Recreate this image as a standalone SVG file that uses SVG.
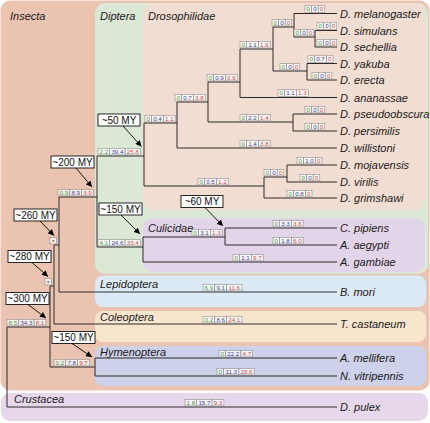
<svg xmlns="http://www.w3.org/2000/svg" width="430" height="423" viewBox="0 0 430 423">
<defs>
<marker id="ah" viewBox="0 0 10 10" refX="10" refY="5" markerWidth="6.5" markerHeight="6" orient="auto" markerUnits="userSpaceOnUse"><path d="M0,0 L10,5 L0,10 z" fill="#000"/></marker>
<style>
text{font-family:"Liberation Sans",Arial,sans-serif}
.cl{font-style:italic;font-size:11px;fill:#1a1a1a}
.sp{font-style:italic;font-size:11px;fill:#1a1a1a}
.my rect{fill:#fff;stroke:#111;stroke-width:0.9}
.my text{font-size:10px;text-anchor:middle;fill:#111}
.my line{stroke:#000;stroke-width:0.9;marker-end:url(#ah)}
.lb rect{fill:#fff;fill-opacity:0.75;stroke:#8a8a8a;stroke-width:0.6}
.lb text{font-size:6.2px;text-anchor:middle}
.g{fill:#3d9a3d}.u{fill:#3f3fa0}.r{fill:#c84848}.s{fill:#222;font-size:7.5px}
#connectors path{fill:none;stroke:#2e2a2a;stroke-width:1}
</style>
</defs>
<g id="clades">
<rect x="0.5" y="0.5" width="429" height="390" rx="10" fill="#EBC4B1"/>
<rect x="95" y="3" width="333" height="271" rx="10" fill="#DCE8D6"/>
<rect x="143" y="3" width="282" height="207" rx="10" fill="#F2DDD2"/>
<rect x="143" y="218" width="282" height="54" rx="10" fill="#E3D5E9"/>
<rect x="95" y="275.5" width="331" height="31.5" rx="8" fill="#DCE9F6"/>
<rect x="95" y="311" width="331" height="31" rx="8" fill="#F8E5CE"/>
<rect x="95" y="346" width="331" height="40" rx="8" fill="#CDD1EA"/>
<rect x="1" y="393" width="427" height="28" rx="9" fill="#E6D8EA"/>
<text class="cl" x="10" y="20">Insecta</text>
<text class="cl" x="100" y="20">Diptera</text>
<text class="cl" x="148" y="20">Drosophilidae</text>
<text class="cl" x="148" y="232">Culicidae</text>
<text class="cl" x="100" y="288">Lepidoptera</text>
<text class="cl" x="100" y="321">Coleoptera</text>
<text class="cl" x="100" y="356">Hymenoptera</text>
<text class="cl" x="14" y="403">Crustacea</text>
</g>
<g id="connectors">
<path d="M294,13.5H337M294,13.5V37H315M315,30.5V47M315,30.5H337M315,47H337M273,27H294M273,27V71H307M307,63.5V80M307,63.5H337M307,80H337M240,49H273M240,49V97.5H337M208,82H240M208,82V122H293M293,114V131M293,114H337M293,131H337M177,102H208M177,102V148H337M144,123H177M144,123V186H264M264,177V198H337M264,177H287M287,165V182M287,165H337M287,182H337M97,156H144M97,156V247H143M143,237V262H337M143,237H225M225,228V245M225,228H337M225,245H337M59,197H97M59,197V292H337M54,245H59M54,245V324H337M50,286H54M50,286V367H95M95,358V376M95,358H337M95,376H337M7,327H50M7,327V407H337"/>
</g>
<g id="species">
<text class="sp" id="d-mel" x="340" y="17.5">D. melanogaster</text>
<text class="sp" id="d-sim" x="340" y="34.5">D. simulans</text>
<text class="sp" id="d-sec" x="340" y="51">D. sechellia</text>
<text class="sp" id="d-yak" x="340" y="67.5">D. yakuba</text>
<text class="sp" id="d-ere" x="340" y="84">D. erecta</text>
<text class="sp" id="d-ana" x="340" y="101.5">D. ananassae</text>
<text class="sp" id="d-pse" x="340" y="118">D. pseudoobscura</text>
<text class="sp" id="d-per" x="340" y="135">D. persimilis</text>
<text class="sp" id="d-wil" x="340" y="152">D. willistoni</text>
<text class="sp" id="d-moj" x="340" y="169">D. mojavensis</text>
<text class="sp" id="d-vir" x="340" y="186">D. virilis</text>
<text class="sp" id="d-gri" x="340" y="202">D. grimshawi</text>
<text class="sp" id="c-pip" x="340" y="232">C. pipiens</text>
<text class="sp" id="a-aeg" x="340" y="249">A. aegypti</text>
<text class="sp" id="a-gam" x="340" y="266">A. gambiae</text>
<text class="sp" id="b-mor" x="340" y="296">B. mori</text>
<text class="sp" id="t-cas" x="340" y="328">T. castaneum</text>
<text class="sp" id="a-mel" x="340" y="362">A. mellifera</text>
<text class="sp" id="n-vit" x="340" y="380">N. vitripennis</text>
<text class="sp" id="d-pul" x="340" y="411">D. pulex</text>
</g>
<g id="branch-labels">
<g class="lb" id="L1"><rect x="305" y="5.8" width="6.6" height="6.6"/><rect x="311.6" y="5.8" width="6.6" height="6.6"/><rect x="318.2" y="5.8" width="6.6" height="6.6"/><text y="11.3"><tspan x="308.3" class="g">0</tspan><tspan x="314.9" class="u">0</tspan><tspan x="321.5" class="r">0</tspan></text></g>
<g class="lb" id="L2"><rect x="317" y="22.8" width="6.6" height="6.6"/><rect x="323.6" y="22.8" width="6.6" height="6.6"/><rect x="330.2" y="22.8" width="6.6" height="6.6"/><text y="28.3"><tspan x="320.3" class="g">0</tspan><tspan x="326.9" class="u">0</tspan><tspan x="333.5" class="r">0</tspan></text></g>
<g class="lb" id="L3"><rect x="317" y="39.3" width="6.6" height="6.6"/><rect x="323.6" y="39.3" width="6.6" height="6.6"/><rect x="330.2" y="39.3" width="6.6" height="6.6"/><text y="44.8"><tspan x="320.3" class="g">0</tspan><tspan x="326.9" class="u">0</tspan><tspan x="333.5" class="r">0</tspan></text></g>
<g class="lb" id="L4"><rect x="294" y="29.3" width="6.6" height="6.6"/><rect x="300.6" y="29.3" width="6.6" height="6.6"/><rect x="307.2" y="29.3" width="6.6" height="6.6"/><text y="34.8"><tspan x="297.3" class="g">0</tspan><tspan x="303.9" class="u">0</tspan><tspan x="310.5" class="r">0</tspan></text></g>
<g class="lb" id="L5"><rect x="272" y="19.3" width="6.6" height="6.6"/><rect x="278.6" y="19.3" width="6.6" height="6.6"/><rect x="285.2" y="19.3" width="6.6" height="6.6"/><text y="24.8"><tspan x="275.3" class="g">0</tspan><tspan x="281.9" class="u">0</tspan><tspan x="288.5" class="r">0</tspan></text></g>
<g class="lb" id="L6"><rect x="308" y="55.8" width="6.6" height="6.6"/><rect x="314.6" y="55.8" width="11.8" height="6.6"/><rect x="326.4" y="55.8" width="6.6" height="6.6"/><text y="61.3"><tspan x="311.3" class="g">0</tspan><tspan x="320.5" class="u">0.7</tspan><tspan x="329.7" class="r">0</tspan></text></g>
<g class="lb" id="L7"><rect x="312" y="72.3" width="6.6" height="6.6"/><rect x="318.6" y="72.3" width="6.6" height="6.6"/><rect x="325.2" y="72.3" width="6.6" height="6.6"/><text y="77.8"><tspan x="315.3" class="g">0</tspan><tspan x="321.9" class="u">0</tspan><tspan x="328.5" class="r">0</tspan></text></g>
<g class="lb" id="L8"><rect x="280" y="63.3" width="6.6" height="6.6"/><rect x="286.6" y="63.3" width="6.6" height="6.6"/><rect x="293.2" y="63.3" width="6.6" height="6.6"/><text y="68.8"><tspan x="283.3" class="g">0</tspan><tspan x="289.9" class="u">0</tspan><tspan x="296.5" class="r">0</tspan></text></g>
<g class="lb" id="L9"><rect x="240" y="41.3" width="6.6" height="6.6"/><rect x="246.6" y="41.3" width="11.8" height="6.6"/><rect x="258.4" y="41.3" width="11.8" height="6.6"/><text y="46.8"><tspan x="243.3" class="g">0</tspan><tspan x="252.5" class="u">1.1</tspan><tspan x="264.3" class="r">1.6</tspan></text></g>
<g class="lb" id="L10"><rect x="278" y="89.8" width="6.6" height="6.6"/><rect x="284.6" y="89.8" width="11.8" height="6.6"/><rect x="296.4" y="89.8" width="11.8" height="6.6"/><text y="95.3"><tspan x="281.3" class="g">0</tspan><tspan x="290.5" class="u">1.1</tspan><tspan x="302.3" class="r">1.3</tspan></text></g>
<g class="lb" id="L11"><rect x="207" y="74.3" width="6.6" height="6.6"/><rect x="213.6" y="74.3" width="11.8" height="6.6"/><rect x="225.4" y="74.3" width="11.8" height="6.6"/><text y="79.8"><tspan x="210.3" class="g">0</tspan><tspan x="219.5" class="u">0.9</tspan><tspan x="231.3" class="r">0.6</tspan></text></g>
<g class="lb" id="L12"><rect x="305" y="106.3" width="6.6" height="6.6"/><rect x="311.6" y="106.3" width="6.6" height="6.6"/><rect x="318.2" y="106.3" width="6.6" height="6.6"/><text y="111.8"><tspan x="308.3" class="g">0</tspan><tspan x="314.9" class="u">0</tspan><tspan x="321.5" class="r">0</tspan></text></g>
<g class="lb" id="L13"><rect x="305" y="123.3" width="6.6" height="6.6"/><rect x="311.6" y="123.3" width="6.6" height="6.6"/><rect x="318.2" y="123.3" width="6.6" height="6.6"/><text y="128.8"><tspan x="308.3" class="g">0</tspan><tspan x="314.9" class="u">0</tspan><tspan x="321.5" class="r">0</tspan></text></g>
<g class="lb" id="L14"><rect x="240" y="114.3" width="6.6" height="6.6"/><rect x="246.6" y="114.3" width="11.8" height="6.6"/><rect x="258.4" y="114.3" width="11.8" height="6.6"/><text y="119.8"><tspan x="243.3" class="g">0</tspan><tspan x="252.5" class="u">2.2</tspan><tspan x="264.3" class="r">1.4</tspan></text></g>
<g class="lb" id="L15"><rect x="175" y="94.3" width="6.6" height="6.6"/><rect x="181.6" y="94.3" width="11.8" height="6.6"/><rect x="193.4" y="94.3" width="11.8" height="6.6"/><text y="99.8"><tspan x="178.3" class="g">0</tspan><tspan x="187.5" class="u">0.7</tspan><tspan x="199.3" class="r">3.8</tspan></text></g>
<g class="lb" id="L16"><rect x="240" y="140.3" width="6.6" height="6.6"/><rect x="246.6" y="140.3" width="11.8" height="6.6"/><rect x="258.4" y="140.3" width="11.8" height="6.6"/><text y="145.8"><tspan x="243.3" class="g">0</tspan><tspan x="252.5" class="u">1.4</tspan><tspan x="264.3" class="r">3.8</tspan></text></g>
<g class="lb" id="L17"><rect x="145" y="115.3" width="6.6" height="6.6"/><rect x="151.6" y="115.3" width="11.8" height="6.6"/><rect x="163.4" y="115.3" width="11.8" height="6.6"/><text y="120.8"><tspan x="148.3" class="g">0</tspan><tspan x="157.5" class="u">0.4</tspan><tspan x="169.3" class="r">1.1</tspan></text></g>
<g class="lb" id="L18"><rect x="264" y="169.3" width="6.6" height="6.6"/><rect x="270.6" y="169.3" width="6.6" height="6.6"/><rect x="277.2" y="169.3" width="6.6" height="6.6"/><text y="174.8"><tspan x="267.3" class="g">0</tspan><tspan x="273.9" class="u">0</tspan><tspan x="280.5" class="r">0</tspan></text></g>
<g class="lb" id="L19"><rect x="297" y="157.3" width="6.6" height="6.6"/><rect x="303.6" y="157.3" width="11.8" height="6.6"/><rect x="315.4" y="157.3" width="6.6" height="6.6"/><text y="162.8"><tspan x="300.3" class="g">0</tspan><tspan x="309.5" class="u">1.0</tspan><tspan x="318.7" class="r">0</tspan></text></g>
<g class="lb" id="L20"><rect x="300" y="174.3" width="6.6" height="6.6"/><rect x="306.6" y="174.3" width="6.6" height="6.6"/><rect x="313.2" y="174.3" width="6.6" height="6.6"/><text y="179.8"><tspan x="303.3" class="g">0</tspan><tspan x="309.9" class="u">0</tspan><tspan x="316.5" class="r">0</tspan></text></g>
<g class="lb" id="L21"><rect x="287" y="190.3" width="6.6" height="6.6"/><rect x="293.6" y="190.3" width="11.8" height="6.6"/><rect x="305.4" y="190.3" width="6.6" height="6.6"/><text y="195.8"><tspan x="290.3" class="g">0</tspan><tspan x="299.5" class="u">0.8</tspan><tspan x="308.7" class="r">0</tspan></text></g>
<g class="lb" id="L22"><rect x="198" y="178.3" width="6.6" height="6.6"/><rect x="204.6" y="178.3" width="11.8" height="6.6"/><rect x="216.4" y="178.3" width="11.8" height="6.6"/><text y="183.8"><tspan x="201.3" class="g">0</tspan><tspan x="210.5" class="u">0.5</tspan><tspan x="222.3" class="r">1.2</tspan></text></g>
<g class="lb" id="L23"><rect x="98" y="148.3" width="11.8" height="6.6"/><rect x="109.8" y="148.3" width="15.3" height="6.6"/><rect x="125.1" y="148.3" width="15.3" height="6.6"/><text y="153.8"><tspan x="103.9" class="g">2.2</tspan><tspan x="117.45" class="u">39.4</tspan><tspan x="132.75" class="r">25.8</tspan></text></g>
<g class="lb" id="L24"><rect x="192" y="229.3" width="6.6" height="6.6"/><rect x="198.6" y="229.3" width="11.8" height="6.6"/><rect x="210.4" y="229.3" width="11.8" height="6.6"/><text y="234.8"><tspan x="195.3" class="g">0</tspan><tspan x="204.5" class="u">3.1</tspan><tspan x="216.3" class="r">1.3</tspan></text></g>
<g class="lb" id="L25"><rect x="273" y="220.3" width="6.6" height="6.6"/><rect x="279.6" y="220.3" width="11.8" height="6.6"/><rect x="291.4" y="220.3" width="11.8" height="6.6"/><text y="225.8"><tspan x="276.3" class="g">0</tspan><tspan x="285.5" class="u">3.3</tspan><tspan x="297.3" class="r">3.6</tspan></text></g>
<g class="lb" id="L26"><rect x="273" y="237.3" width="6.6" height="6.6"/><rect x="279.6" y="237.3" width="11.8" height="6.6"/><rect x="291.4" y="237.3" width="11.8" height="6.6"/><text y="242.8"><tspan x="276.3" class="g">0</tspan><tspan x="285.5" class="u">1.8</tspan><tspan x="297.3" class="r">6.0</tspan></text></g>
<g class="lb" id="L27"><rect x="233" y="254.3" width="6.6" height="6.6"/><rect x="239.6" y="254.3" width="11.8" height="6.6"/><rect x="251.4" y="254.3" width="11.8" height="6.6"/><text y="259.8"><tspan x="236.3" class="g">0</tspan><tspan x="245.5" class="u">1.1</tspan><tspan x="257.3" class="r">9.7</tspan></text></g>
<g class="lb" id="L28"><rect x="98" y="239.3" width="11.8" height="6.6"/><rect x="109.8" y="239.3" width="15.3" height="6.6"/><rect x="125.1" y="239.3" width="15.3" height="6.6"/><text y="244.8"><tspan x="103.9" class="g">4.1</tspan><tspan x="117.45" class="u">24.6</tspan><tspan x="132.75" class="r">33.4</tspan></text></g>
<g class="lb" id="L29"><rect x="58" y="189.3" width="11.8" height="6.6"/><rect x="69.8" y="189.3" width="11.8" height="6.6"/><rect x="81.6" y="189.3" width="11.8" height="6.6"/><text y="194.8"><tspan x="63.9" class="g">0.9</tspan><tspan x="75.7" class="u">8.9</tspan><tspan x="87.5" class="r">3.9</tspan></text></g>
<g class="lb" id="L30"><rect x="50" y="237.3" width="6.6" height="6.6"/><text x="53.3" y="244.2" class="s">*</text></g>
<g class="lb" id="L31"><rect x="203" y="284.3" width="11.8" height="6.6"/><rect x="214.8" y="284.3" width="11.8" height="6.6"/><rect x="226.6" y="284.3" width="15.3" height="6.6"/><text y="289.8"><tspan x="208.9" class="g">6.9</tspan><tspan x="220.7" class="u">9.1</tspan><tspan x="234.25" class="r">11.6</tspan></text></g>
<g class="lb" id="L32"><rect x="45" y="278.3" width="6.6" height="6.6"/><text x="48.3" y="285.2" class="s">*</text></g>
<g class="lb" id="L33"><rect x="203" y="316.3" width="11.8" height="6.6"/><rect x="214.8" y="316.3" width="11.8" height="6.6"/><rect x="226.6" y="316.3" width="15.3" height="6.6"/><text y="321.8"><tspan x="208.9" class="g">0.2</tspan><tspan x="220.7" class="u">8.6</tspan><tspan x="234.25" class="r">24.1</tspan></text></g>
<g class="lb" id="L34"><rect x="54" y="359.3" width="11.8" height="6.6"/><rect x="65.8" y="359.3" width="11.8" height="6.6"/><rect x="77.6" y="359.3" width="11.8" height="6.6"/><text y="364.8"><tspan x="59.9" class="g">0.2</tspan><tspan x="71.7" class="u">7.8</tspan><tspan x="83.5" class="r">9.7</tspan></text></g>
<g class="lb" id="L35"><rect x="219" y="350.3" width="6.6" height="6.6"/><rect x="225.6" y="350.3" width="15.3" height="6.6"/><rect x="240.9" y="350.3" width="11.8" height="6.6"/><text y="355.8"><tspan x="222.3" class="g">0</tspan><tspan x="233.25" class="u">22.2</tspan><tspan x="246.8" class="r">4.7</tspan></text></g>
<g class="lb" id="L36"><rect x="217" y="368.3" width="6.6" height="6.6"/><rect x="223.6" y="368.3" width="15.3" height="6.6"/><rect x="238.9" y="368.3" width="15.3" height="6.6"/><text y="373.8"><tspan x="220.3" class="g">0</tspan><tspan x="231.25" class="u">11.3</tspan><tspan x="246.55" class="r">28.6</tspan></text></g>
<g class="lb" id="L37"><rect x="7" y="319.3" width="11.8" height="6.6"/><rect x="18.8" y="319.3" width="15.3" height="6.6"/><rect x="34.1" y="319.3" width="11.8" height="6.6"/><text y="324.8"><tspan x="12.9" class="g">8.5</tspan><tspan x="26.45" class="u">34.3</tspan><tspan x="40" class="r">8.1</tspan></text></g>
<g class="lb" id="L38"><rect x="185" y="399.3" width="11.8" height="6.6"/><rect x="196.8" y="399.3" width="15.3" height="6.6"/><rect x="212.1" y="399.3" width="11.8" height="6.6"/><text y="404.8"><tspan x="190.9" class="g">1.8</tspan><tspan x="204.45" class="u">15.7</tspan><tspan x="218" class="r">9.3</tspan></text></g>
</g>
<g id="ages">
<g class="my" id="my50"><rect x="98" y="114" width="42" height="12"/><text x="119" y="123.5">~50 MY</text><line x1="123" y1="126" x2="141.5" y2="146.5"/></g>
<g class="my" id="my200"><rect x="51" y="156" width="43" height="12"/><text x="72.5" y="165.5">~200 MY</text><line x1="76" y1="168" x2="92" y2="187"/></g>
<g class="my" id="my150a"><rect x="99" y="203" width="43" height="12"/><text x="120.5" y="212.5">~150 MY</text><line x1="121" y1="215" x2="140" y2="234"/></g>
<g class="my" id="my60"><rect x="181" y="195.5" width="42" height="12"/><text x="202" y="205">~60 MY</text><line x1="205" y1="207.5" x2="223" y2="226"/></g>
<g class="my" id="my260"><rect x="14" y="209" width="43" height="12"/><text x="35.5" y="218.5">~260 MY</text><line x1="40" y1="221" x2="54" y2="235.5"/></g>
<g class="my" id="my280"><rect x="8" y="250.5" width="43" height="12"/><text x="29.5" y="260">~280 MY</text><line x1="32" y1="262.5" x2="48" y2="276.5"/></g>
<g class="my" id="my300"><rect x="6" y="292.5" width="43" height="12"/><text x="27.5" y="302">~300 MY</text><line x1="28" y1="304.5" x2="46" y2="318"/></g>
<g class="my" id="my150b"><rect x="52" y="331.5" width="43" height="12"/><text x="73.5" y="341">~150 MY</text><line x1="72" y1="343.5" x2="92" y2="357"/></g>
</g>
</svg>
